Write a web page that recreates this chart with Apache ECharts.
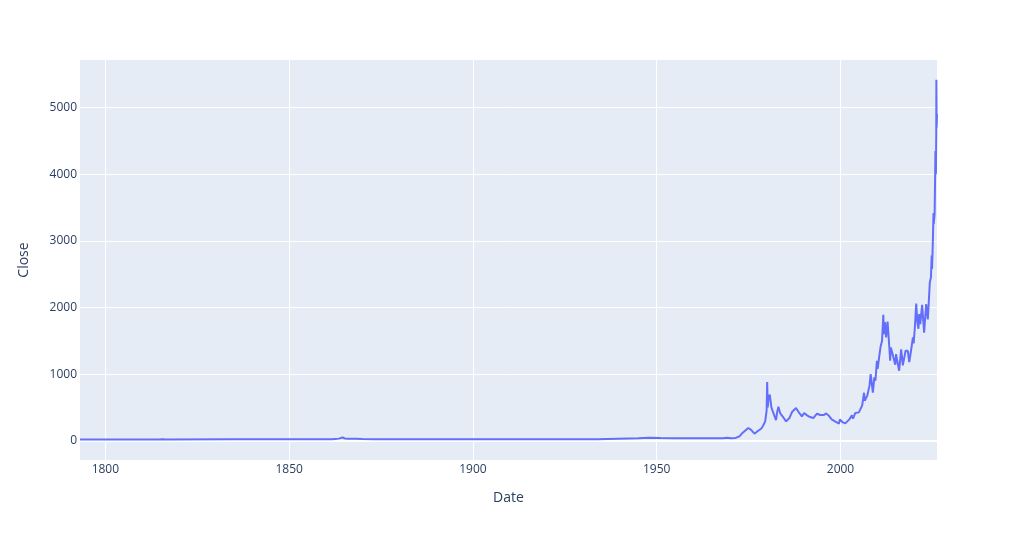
<!DOCTYPE html>
<html>
<head>
<meta charset="utf-8">
<title>Close</title>
<script src="https://cdn.jsdelivr.net/npm/echarts@6/dist/echarts.min.js"></script>
<style>
  html, body { margin: 0; padding: 0; background: #fff; }
  #chart { width: 1016px; height: 540px; }
</style>
</head>
<body>
<div id="chart"></div>
<script>
// dates as decimal years, closes
var years = [1793.1, 1814.5, 1815.5, 1816.5, 1834.5, 1861.5, 1862.5, 1863.5, 1864.5, 1865.2,
  1866, 1868, 1870, 1873, 1876, 1879, 1933.8, 1934.1, 1945, 1948,
  1951, 1955, 1968, 1969.2, 1970.1, 1971.5, 1972.5, 1973.4, 1973.9, 1974.9,
  1975.6, 1976.6, 1977.5, 1978.4, 1978.9, 1979.5, 1979.9, 1980.05, 1980.2, 1980.4,
  1980.75, 1981.2, 1981.7, 1982.45, 1982.8, 1983.1, 1983.6, 1984.5, 1985.2, 1986.1,
  1986.8, 1987.9, 1988.6, 1989.5, 1990.1, 1990.9, 1991.7, 1992.6, 1993.6, 1994.5,
  1995.5, 1996.1, 1996.9, 1997.6, 1998.5, 1999.6, 1999.8, 2000.5, 2001.3, 2002.4,
  2003.1, 2003.4, 2004, 2004.4, 2005, 2005.9, 2006.4, 2006.6, 2007.3, 2007.9,
  2008.2, 2008.8, 2009.2, 2009.5, 2009.9, 2010.1, 2010.5, 2010.9, 2011.3, 2011.65,
  2011.8, 2012.1, 2012.4, 2012.8, 2013.3, 2013.5, 2013.7, 2014.2, 2014.9, 2015.1,
  2015.95, 2016.5, 2016.95, 2017.7, 2018.3, 2018.7, 2019.1, 2019.7, 2019.9, 2020.2,
  2020.6, 2020.9, 2021.2, 2021.4, 2021.7, 2022.2, 2022.75, 2023.3, 2023.75, 2024.0,
  2024.3, 2024.6, 2024.8, 2024.9, 2025.1, 2025.3, 2025.35, 2025.6, 2025.75, 2025.82,
  2025.95, 2026.05, 2026.08, 2026.15, 2026.25];
var closes = [19.39, 19.39, 22, 19.39, 20.67, 20.67, 26, 31, 48, 33,
  29, 28, 24, 23, 23, 20.67, 20.67, 35, 38, 45,
  40, 35, 35, 43, 35, 41, 65, 120, 110, 190,
  165, 105, 145, 180, 220, 290, 450, 880, 500, 640,
  690, 500, 420, 310, 440, 510, 410, 345, 290, 340,
  430, 490, 430, 365, 415, 380, 355, 340, 405, 385,
  385, 410, 370, 320, 290, 255, 320, 280, 260, 320,
  380, 330, 415, 385, 425, 530, 720, 600, 680, 830,
  1000, 720, 950, 900, 1200, 1080, 1250, 1410, 1500, 1890,
  1600, 1780, 1550, 1790, 1390, 1200, 1400, 1380, 1140, 1300,
  1050, 1370, 1130, 1350, 1350, 1180, 1320, 1550, 1460, 1680,
  2060, 1780, 1680, 1900, 1750, 2040, 1620, 2050, 1820, 2070,
  2380, 2450, 2780, 2580, 2950, 3420, 3250, 3400, 4000, 4350,
  4000, 4600, 5420, 4700, 4900];

var points = years.map(function (y, i) { return [y, closes[i]]; });

var textColor = '#2a3f5f';
var font = '"Open Sans", "Noto Sans", sans-serif';

var chart = echarts.init(document.getElementById('chart'));
chart.setOption({
  animation: false,
  grid: {
    left: 80, right: 79, top: 60, bottom: 80,
    show: true,
    backgroundColor: '#E5ECF6',
    borderWidth: 0
  },
  xAxis: {
    type: 'value',
    min: 1793.1,
    max: 2026.25,
    name: 'Date',
    nameLocation: 'middle',
    nameGap: 31,
    nameTextStyle: { color: textColor, fontSize: 14, fontFamily: font },
    axisLine: { show: false },
    axisTick: { show: false },
    axisLabel: {
      color: textColor, fontSize: 12, fontFamily: font, margin: 4,
      showMinLabel: false, showMaxLabel: false,
      formatter: function (v) { return String(v); }
    },
    splitLine: {
      show: true, showMinLine: false, showMaxLine: false,
      lineStyle: { color: '#ffffff', width: 1 }
    }
  },
  yAxis: {
    type: 'value',
    min: -290,
    max: 5716,
    name: 'Close',
    nameLocation: 'middle',
    nameGap: 49,
    nameTextStyle: { color: textColor, fontSize: 14, fontFamily: font },
    axisLine: { show: false },
    axisTick: { show: false },
    axisLabel: {
      color: textColor, fontSize: 12, fontFamily: font, margin: 3,
      showMinLabel: false, showMaxLabel: false,
      formatter: function (v) { return String(v); }
    },
    splitLine: {
      show: true, showMinLine: false, showMaxLine: false,
      lineStyle: { color: '#ffffff', width: 1 }
    }
  },
  series: [{
    type: 'line',
    data: points,
    showSymbol: false,
    sampling: 'none',
    lineStyle: { color: '#636efa', width: 2 },
    itemStyle: { color: '#636efa' },
    markLine: {
      silent: true,
      z: 1,
      symbol: 'none',
      label: { show: false },
      lineStyle: { color: '#ffffff', width: 2, type: 'solid' },
      data: [{ yAxis: 0 }]
    }
  }]
});
</script>
</body>
</html>
